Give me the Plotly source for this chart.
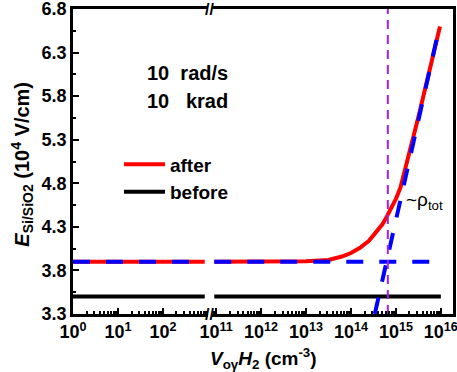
import plotly.graph_objects as go

# ---------------- data ----------------
# left segment of broken x-axis (10^0 .. 10^3)
x_left = [1, 850]
before_left = [3.5, 3.5]
after_left = [3.9, 3.9]
fit_flat_left = [3.9, 3.9]

# right segment (10^11 .. 10^16)
x_before_right = [9.1e10, 1e16]
before_right = [3.5, 3.5]

log_after = [10.96, 11.5, 12, 12.5, 13, 13.5, 13.8, 14.0, 14.2, 14.4, 14.5, 14.6, 14.7,
             14.8, 14.9, 15.0, 15.1, 15.2, 15.3, 15.5, 15.75, 15.98]
after_right = [3.9, 3.9, 3.9, 3.9, 3.905, 3.92, 3.96, 4.0, 4.06, 4.14, 4.2, 4.27, 4.33,
               4.42, 4.52, 4.62, 4.75, 4.95, 5.13, 5.56, 6.1, 6.6]
x_after_right = [10 ** v for v in log_after]

x_flat_right = [9.1e10, 1e16]
fit_flat_right = [3.9, 3.9]

x_rho = [10 ** 14.53, 10 ** 15.97]
fit_rho = [3.3, 6.6]

x_ref = [6.6e14, 6.6e14]
y_ref = [3.3, 6.8]

left_ticks = [1, 10, 100]
left_ticktext = ["10<sup>0</sup>", "10<sup>1</sup>", "10<sup>2</sup>"]
right_ticks = [1e11, 1e12, 1e13, 1e14, 1e15, 1e16]
right_ticktext = ["10<sup>11</sup>", "10<sup>12</sup>", "10<sup>13</sup>",
                  "10<sup>14</sup>", "10<sup>15</sup>", "10<sup>16</sup>"]
y_ticks = [3.3, 3.8, 4.3, 4.8, 5.3, 5.8, 6.3, 6.8]
y_minor = [3.55, 4.05, 4.55, 5.05, 5.55, 6.05, 6.55]

# ---------------- styles ----------------
RED = "#ff0000"
BLUE = "#0000ff"
BLACK = "#000000"
PURPLE = "#a020f0"
FONT = "Liberation Sans"
DASH = "17px,16px"

minor_left = [m * 10 ** d for d in range(0, 3) for m in range(2, 10)]
minor_right = [m * 10 ** d for d in range(10, 16) for m in range(2, 10)]

fig = go.Figure()

# left segment
fig.add_trace(go.Scatter(x=x_left, y=before_left, mode="lines", name="before",
                         line=dict(color=BLACK, width=4), xaxis="x", yaxis="y",
                         showlegend=False))
fig.add_trace(go.Scatter(x=x_left, y=after_left, mode="lines", name="after",
                         line=dict(color=RED, width=4), xaxis="x", yaxis="y",
                         showlegend=False))
fig.add_trace(go.Scatter(x=x_left, y=fit_flat_left, mode="lines",
                         line=dict(color=BLUE, width=4, dash=DASH), xaxis="x", yaxis="y",
                         showlegend=False))

# right segment
fig.add_trace(go.Scatter(x=x_after_right, y=after_right, mode="lines", name="after",
                         line=dict(color=RED, width=4), xaxis="x2", yaxis="y2",
                         showlegend=True))
fig.add_trace(go.Scatter(x=x_before_right, y=before_right, mode="lines", name="before",
                         line=dict(color=BLACK, width=4), xaxis="x2", yaxis="y2",
                         showlegend=True))
fig.add_trace(go.Scatter(x=x_flat_right, y=fit_flat_right, mode="lines",
                         line=dict(color=BLUE, width=4, dash=DASH), xaxis="x2", yaxis="y2",
                         showlegend=False))
fig.add_trace(go.Scatter(x=x_rho, y=fit_rho, mode="lines",
                         line=dict(color=BLUE, width=4, dash=DASH), xaxis="x2", yaxis="y2",
                         showlegend=False))
fig.add_trace(go.Scatter(x=x_ref, y=y_ref, mode="lines",
                         line=dict(color=PURPLE, width=2, dash="9px,6px"), xaxis="x2", yaxis="y2",
                         showlegend=False))

TICKFONT = dict(family=FONT, size=18, color=BLACK, weight="bold")
axis_common = dict(showline=True, linecolor=BLACK, linewidth=2.5, mirror=True,
                   ticks="inside", ticklen=6, tickwidth=2, tickcolor=BLACK,
                   showgrid=False, zeroline=False, automargin=False,
                   ticklabeloverflow="allow", tickfont=TICKFONT)

fig.update_layout(
    width=457, height=372,
    margin=dict(l=73, r=4, t=9, b=58),
    paper_bgcolor="white", plot_bgcolor="white",
    xaxis=dict(type="log", domain=[0, 0.355], range=[0, 3], anchor="y",
               tickvals=left_ticks, ticktext=left_ticktext,
               minor=dict(tickvals=minor_left, ticks="inside", ticklen=3, tickwidth=1.5,
                          tickcolor=BLACK, showgrid=False),
               **axis_common),
    xaxis2=dict(type="log", domain=[0.366, 1], range=[10.91, 16.27], anchor="y2",
                tickvals=right_ticks, ticktext=right_ticktext,
                minor=dict(tickvals=minor_right, ticks="inside", ticklen=3, tickwidth=1.5,
                           tickcolor=BLACK, showgrid=False),
                **axis_common),
    yaxis=dict(range=[3.3, 6.8], anchor="x", domain=[0, 1], tickvals=y_ticks,
               ticktext=[f"{v:.1f}" for v in y_ticks],
               minor=dict(tickvals=y_minor, ticks="inside", ticklen=3, tickwidth=1.5,
                          tickcolor=BLACK, showgrid=False),
               showline=True, linecolor=BLACK, linewidth=2.5, mirror=False,
               ticks="inside", ticklen=6, tickwidth=2, tickcolor=BLACK,
               showgrid=False, zeroline=False, automargin=False,
               ticklabeloverflow="allow", tickfont=TICKFONT),
    yaxis2=dict(range=[3.3, 6.8], anchor="x2", domain=[0, 1], side="right",
                showline=True, linecolor=BLACK, linewidth=2.5, mirror=False,
                showticklabels=False, ticks="", showgrid=False, zeroline=False,
                automargin=False),
    showlegend=True,
    legend=dict(x=0.121, y=0.445, xanchor="left", yanchor="middle",
                bgcolor="rgba(0,0,0,0)", borderwidth=0, tracegroupgap=0,
                itemwidth=41,
                font=dict(family=FONT, size=19, color=BLACK, weight="bold")),
)

annos = [
    dict(text="<b>10\u00a0\u00a0rad/s</b>", x=0.19, y=0.79, xanchor="left", yanchor="middle",
         font=dict(family=FONT, size=20, color=BLACK)),
    dict(text="<b>10\u00a0\u00a0\u00a0krad</b>", x=0.19, y=0.70, xanchor="left", yanchor="middle",
         font=dict(family=FONT, size=20, color=BLACK)),
    dict(text="~\u03c1<sub>tot</sub>", x=0.87, y=0.37, xanchor="left", yanchor="middle",
         font=dict(family=FONT, size=19, color=BLACK)),
    dict(text="<b><i>E</i><sub>Si/SiO2</sub> (10<sup>4</sup> V/cm)</b>", x=-0.134, y=0.49,
         xanchor="center", yanchor="middle", textangle=-90,
         font=dict(family=FONT, size=20, color=BLACK)),
    dict(text="<b><i>V</i><sub>o\u03b3</sub><i>H</i><sub>2</sub> (cm<sup>-3</sup>)</b>",
         x=0.5, y=-0.145, xanchor="center", yanchor="middle",
         font=dict(family=FONT, size=19, color=BLACK)),
    dict(text="<b>//</b>", x=0.3605, y=0.0, xanchor="center", yanchor="middle",
         font=dict(family=FONT, size=16, color=BLACK)),
    dict(text="<b>//</b>", x=0.3605, y=1.0, xanchor="center", yanchor="middle",
         font=dict(family=FONT, size=16, color=BLACK)),
]
for a in annos:
    a.update(xref="paper", yref="paper", showarrow=False)
    fig.add_annotation(**a)

fig.write_html("out.html", config={"displayModeBar": False},
               post_script="document.body.style.margin='0px';document.body.style.padding='0px';")
